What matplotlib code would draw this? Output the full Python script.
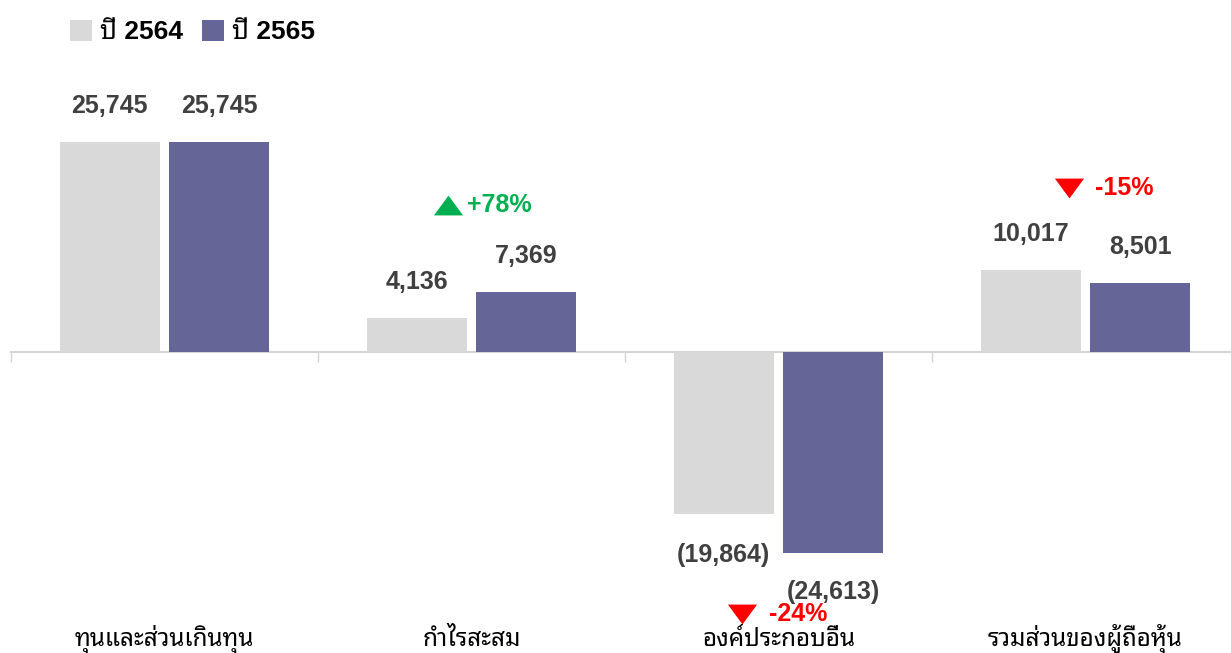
import matplotlib
matplotlib.use('Agg')
import matplotlib.pyplot as plt
from matplotlib.patches import Patch
from matplotlib.transforms import offset_copy
import numpy as np

# ข้อมูล
categories = ['ทุนและส่วนเกินทุน', 'กำไรสะสม', 'องค์ประกอบอื่น', 'รวมส่วนของผู้ถือหุ้น']
values_2564 = [25745, 4136, -19864, 10017]
values_2565 = [25745, 7369, -24613, 8501]
series_names = ['ปี 2564', 'ปี 2565']
changes = [None, '+78%', '-24%', '-15%']

NUM_FONT = ['Liberation Sans', 'Noto Sans Thai Looped', 'DejaVu Sans']
THAI_FONT = ['Noto Sans Thai Looped', 'Liberation Sans', 'DejaVu Sans']
plt.rcParams['font.family'] = NUM_FONT

c_2564 = '#d9d9d9'
c_2565 = '#656597'
c_label = '#404040'
c_up = '#00b050'
c_down = '#ff0000'

fig = plt.figure(figsize=(12.31, 6.53), dpi=100)
ax = fig.add_axes([11 / 1231, 0, 1228 / 1231, 1])

x = np.arange(len(categories))
width = 0.326
off = 0.179
b1 = ax.bar(x - off, values_2564, width, color=c_2564, zorder=2)
b2 = ax.bar(x + off, values_2565, width, color=c_2565, zorder=2)

ax.set_xlim(-0.5, 3.5)
ax.set_ylim(-36900, 43150)

# แกน
for s in ['top', 'right', 'left']:
    ax.spines[s].set_visible(False)
ax.spines['bottom'].set_position(('data', 0))
ax.spines['bottom'].set_color('#d4d4d4')
ax.spines['bottom'].set_linewidth(1.5)
ax.spines['bottom'].set_zorder(1)
ax.set_yticks([])
ax.set_xticks(np.arange(len(categories)) - 0.5)
ax.set_xticklabels([])
ax.tick_params(axis='x', direction='out', length=7, width=1.0, color='#d4d4d4')


# ป้ายตัวเลข
def fmt(v):
    return f'{v:,.0f}' if v >= 0 else f'({-v:,.0f})'


def add_labels(rects, vals, neg_off):
    for r, v in zip(rects, vals):
        cx = r.get_x() + r.get_width() / 2
        if v >= 0:
            ax.annotate(fmt(v), xy=(cx, v), xytext=(0, 29), textcoords='offset pixels',
                        ha='center', va='baseline', fontsize=18, fontweight='bold',
                        color=c_label)
        else:
            ax.annotate(fmt(v), xy=(cx, v), xytext=(0, neg_off), textcoords='offset pixels',
                        ha='center', va='top', fontsize=18, fontweight='bold',
                        color=c_label)


add_labels(b1, values_2564, -29)
add_labels(b2, values_2565, -27)

# สามเหลี่ยมแบบกว้าง
tri_up = [(-1, -0.68), (1, -0.68), (0, 0.68), (-1, -0.68)]
tri_down = [(-1, 0.68), (1, 0.68), (0, -0.68), (-1, 0.68)]

# เปอร์เซ็นต์เปลี่ยนแปลง (ระยะเป็นพิกเซล: สัญลักษณ์ x, ข้อความ x, y จากยอดแท่ง)
pct_layout = {1: (-24, 19, 87, 'top'), 2: (-37, 27, -61, 'bottom'), 3: (-17, 27, 82, 'top')}
for i, ch in enumerate(changes):
    if ch is None:
        continue
    dx, tx, dy_px, ref = pct_layout[i]
    if ref == 'top':
        yref = max(values_2564[i], values_2565[i])
    else:
        yref = min(values_2564[i], values_2565[i])
    up = ch.startswith('+')
    col = c_up if up else c_down
    tr = offset_copy(ax.transData, fig=fig, x=dx, y=dy_px, units='dots')
    ax.plot([i], [yref], transform=tr, marker=tri_up if up else tri_down,
            markersize=21, color=col, markeredgewidth=0, linestyle='none', clip_on=False)
    ax.annotate(ch, xy=(i, yref), xytext=(dx + tx, dy_px),
                textcoords='offset pixels', ha='left', va='center',
                fontsize=18, fontweight='bold', color=col)

# ชื่อหมวดหมู่
for i, c in enumerate(categories):
    ax.text(i, 7 / 653, c, transform=ax.get_xaxis_transform(), ha='center',
            va='baseline', fontsize=17.5, color='black', family=THAI_FONT)

# คำอธิบาย
handles = [Patch(facecolor=c_2564), Patch(facecolor=c_2565)]
fig.legend(handles, series_names, loc='upper left', bbox_to_anchor=(46 / 1231, 1 + 4 / 653),
           ncol=2, frameon=False, handlelength=0.85, handleheight=0.85, handletextpad=0.3,
           columnspacing=0.7, prop={'family': NUM_FONT, 'weight': 'bold', 'size': 19})

fig.savefig('out.png', dpi=100)
